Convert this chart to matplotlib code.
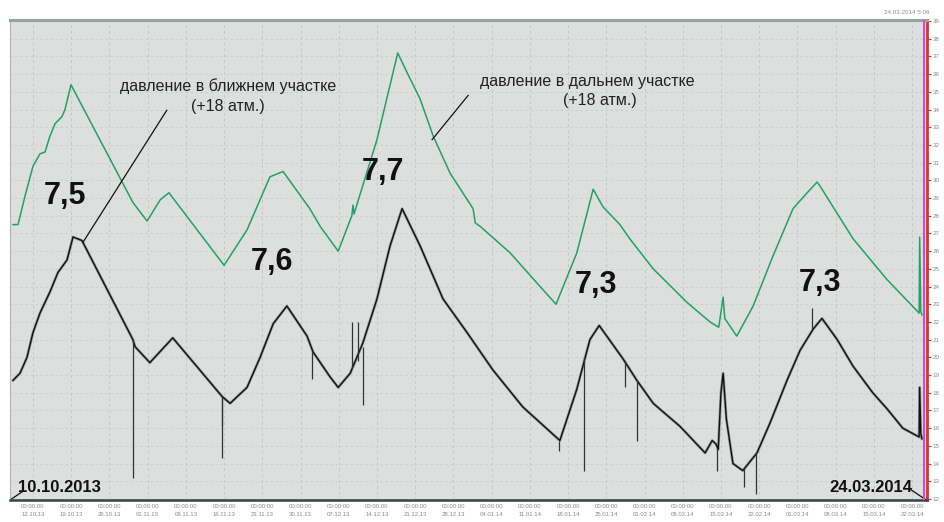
import numpy as np
import pandas as pd
import matplotlib
matplotlib.use("Agg")
import matplotlib.pyplot as plt

plt.rcParams["font.family"] = ["Liberation Sans", "DejaVu Sans"]

# ---------------------------------------------------------------------------
# data: days counted from 12.10.2013 00:00, values in atm
# ---------------------------------------------------------------------------
BASE = pd.Timestamp("2013-10-12")

far_days = [-3.66, -2.75, -1.47, 0.0, 1.28, 2.2, 3.11, 4.03, 5.31, 5.86, 6.96,
            18.3, 20.9, 23.3, 24.9, 35.0, 39.2, 43.4, 45.8, 50.7, 52.6, 55.9,
            58.4, 58.6, 58.8, 63.0, 65.8, 66.8, 68.5, 70.9, 73.3, 76.4, 80.6,
            81.0, 81.9, 87.4, 92.3, 95.8, 99.6, 102.6, 104.4, 107.5, 109.3,
            113.6, 119.8, 124.0, 125.6, 126.4, 126.7, 128.9, 131.9, 135.5,
            139.2, 141.8, 143.6, 144.1, 150.2, 156.4, 162.3, 162.4, 162.6, 162.8]
far_vals = [27.5, 27.5, 29.1, 30.8, 31.5, 31.6, 32.5, 33.2, 33.6, 34.0, 35.4,
            28.75, 27.7, 28.9, 29.3, 25.2, 27.2, 30.2, 30.5, 28.4, 27.4, 26.0,
            28.0, 28.6, 28.1, 32.3, 35.9, 37.2, 36.1, 34.6, 32.5, 30.4, 28.4,
            27.6, 27.4, 25.9, 24.2, 23.0, 25.9, 29.5, 28.5, 27.5, 26.7,
            25.0, 23.1, 22.0, 21.7, 23.4, 22.2, 21.2, 22.9, 25.7,
            28.4, 29.3, 29.9, 29.7, 26.7, 24.4, 22.5, 26.8, 22.6, 22.4]

near_days = [-3.66, -2.38, -1.1, 0.0, 1.28, 3.11, 4.58, 6.23, 7.33, 8.97,
             18.3, 18.7, 21.4, 25.6, 34.6, 36.1, 39.2, 41.6, 44.0, 46.5,
             50.2, 51.3, 54.4, 55.9, 58.1, 60.4, 63.0, 65.4, 67.6, 70.9,
             75.1, 79.5, 84.2, 89.7, 96.5, 99.6, 102.0, 103.7, 108.1, 110.6,
             113.6, 118.5, 123.1, 124.4, 125.1, 125.5, 126.0, 126.4, 127.0,
             128.2, 130.0, 132.6, 135.0, 138.1, 140.5, 142.9, 144.5, 147.3,
             150.2, 153.8, 156.4, 159.3, 162.3, 162.4, 162.6, 162.8]
near_vals = [18.7, 19.1, 20.0, 21.4, 22.5, 23.7, 24.8, 25.5, 26.8, 26.6,
             21.0, 20.6, 19.7, 21.1, 17.8, 17.4, 18.3, 20.0, 21.9, 22.9,
             21.2, 20.3, 18.9, 18.3, 19.1, 20.8, 23.3, 26.3, 28.4, 26.3,
             23.3, 21.4, 19.3, 17.2, 15.3, 18.2, 21.0, 21.8, 19.9, 18.7,
             17.4, 16.1, 14.6, 15.3, 15.1, 14.8, 18.0, 19.1, 16.5,
             14.0, 13.6, 14.6, 16.3, 18.7, 20.4, 21.6, 22.2, 21.0,
             19.5, 18.0, 17.1, 16.0, 15.5, 18.3, 15.7, 15.4]

# short pressure drops / jumps on the near sensor
spike_days = [18.3, 34.6, 34.6, 51.1, 58.4, 59.5, 60.4, 96.3, 101.0, 108.5,
              110.6, 125.3, 130.2, 132.4, 142.6]
spike_from = [21.0, 17.8, 17.8, 20.3, 19.4, 19.8, 20.6, 15.3, 20.0, 19.8,
              18.7, 14.9, 13.7, 14.6, 21.6]
spike_to = [13.2, 16.1, 14.3, 18.8, 22.0, 22.0, 17.3, 14.7, 13.6, 18.3,
            15.3, 13.6, 12.7, 12.3, 22.8]

tick_dates = pd.date_range("2013-10-12", "2014-03-22", freq="7D")
y_ticks = list(range(12, 40))

peak_labels = ["7,5", "7,6", "7,7", "7,3", "7,3"]
peak_days = [5.9, 43.8, 64.1, 103.1, 144.1]
peak_vals = [29.1, 25.4, 30.5, 24.1, 24.2]


def to_dates(days):
    return BASE + pd.to_timedelta(np.asarray(days), unit="D")


fig = plt.figure(figsize=(9.44, 5.22), dpi=100)
ax = fig.add_axes([10 / 944, 22 / 522, 917 / 944, 480 / 522])
ax.set_facecolor("#dcdfde")

# grid
for d in tick_dates:
    ax.axvline(d, color="#c4c8c7", lw=0.7, ls=(0, (3, 3)), zorder=0)
for v in y_ticks:
    ax.axhline(v, color="#c8cccb", lw=0.6, ls=(0, (3, 3)), zorder=0)

# curves
ax.plot(to_dates(far_days), far_vals, color="#23a064", lw=1.1, zorder=3)
ax.plot(to_dates(near_days), near_vals, color="#8f9c9b", lw=2.0, zorder=2)
ax.plot(to_dates(near_days), near_vals, color="#111111", lw=1.0, zorder=3)
ax.vlines(to_dates(spike_days), spike_from, spike_to, color="#333333",
          lw=0.9, zorder=3)

# end-of-record marker
end_time = pd.Timestamp("2014-03-24 05:06")
ax.axvline(end_time, color="#d050c0", lw=1.5, zorder=4)

ax.set_xlim(BASE + pd.Timedelta(days=-4.21), BASE + pd.Timedelta(days=163.74))
ax.set_ylim(11.94, 39.06)

ax.set_xticks(tick_dates)
ax.set_xticklabels([d.strftime("%H:%M:%S\n%d.%m.%y") for d in tick_dates],
                   fontsize=4.3, color="#8a8a8a", linespacing=1.6)
ax.tick_params(axis="x", length=0, pad=3)

ax.yaxis.tick_right()
ax.set_yticks(y_ticks)
ax.set_yticklabels([str(v) for v in y_ticks], fontsize=4.5, color="#8a8a8a")
ax.tick_params(axis="y", length=3, color="#e03030", width=0.8, pad=1)

ax.spines["left"].set_color("#b0b4b4")
ax.spines["left"].set_linewidth(0.8)
ax.spines["top"].set_color("#98a4a4")
ax.spines["top"].set_linewidth(2.2)
ax.spines["bottom"].set_color("#3a4444")
ax.spines["bottom"].set_linewidth(1.8)
ax.spines["right"].set_color("#e03030")
ax.spines["right"].set_linewidth(2.0)

# peak values
for lab, d, v in zip(peak_labels, peak_days, peak_vals):
    ax.text(BASE + pd.Timedelta(days=d), v, lab, fontsize=22, fontweight="bold",
            ha="center", va="center", color="#111111", zorder=5)

# sensor labels
ax.text(BASE + pd.Timedelta(days=35.7), 35.3, "давление в ближнем участке",
        fontsize=11.5, ha="center", va="center", color="#222222")
ax.text(BASE + pd.Timedelta(days=35.7), 34.15, "(+18 атм.)",
        fontsize=11.5, ha="center", va="center", color="#222222")
ax.plot(to_dates([24.5, 9.16]), [33.96, 26.5], color="#111111", lw=0.9, zorder=4)

ax.text(BASE + pd.Timedelta(days=101.5), 35.6, "давление в дальнем участке",
        fontsize=11.5, ha="center", va="center", color="#222222")
ax.text(BASE + pd.Timedelta(days=103.8), 34.5, "(+18 атм.)",
        fontsize=11.5, ha="center", va="center", color="#222222")
ax.plot(to_dates([79.7, 73.1]), [34.8, 32.3], color="#111111", lw=0.9, zorder=4)

# period bounds
ax.text(BASE + pd.Timedelta(days=-2.8), 12.65, "10.10.2013", fontsize=12,
        fontweight="bold", ha="left", va="center", color="#111111")
ax.plot(to_dates([-4.2, -2.0]), [11.94, 12.4], color="#111111", lw=0.9)
ax.text(BASE + pd.Timedelta(days=161.0), 12.65, "24.03.2014", fontsize=12,
        fontweight="bold", ha="right", va="center", color="#111111")
ax.plot(to_dates([160.9, 163.6]), [12.5, 11.94], color="#111111", lw=0.9)

fig.text(930 / 944, 1 - 12 / 522, "24.03.2014 5:06", fontsize=4.5,
         color="#8a8a8a", ha="right", va="center")

fig.savefig("out.png", dpi=100, facecolor="white")
